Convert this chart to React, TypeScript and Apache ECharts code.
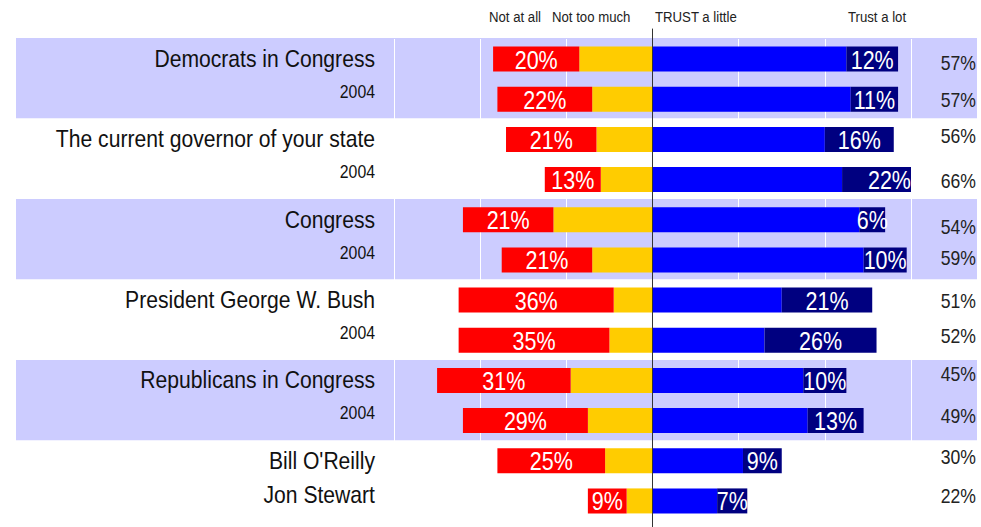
import React, { useEffect, useRef } from 'react';
import * as echarts from 'echarts';

const categories = [
  'Democrats in Congress',
  '2004',
  'The current governor of your state',
  '2004',
  'Congress',
  '2004',
  'President George W. Bush',
  '2004',
  'Republicans in Congress',
  '2004',
  "Bill O'Reilly",
  'Jon Stewart',
];
const labelKinds = ['a', 'b', 'a', 'b', 'a', 'b', 'a', 'b', 'a', 'b', 'a', 'c'];
const bandGroups = ['Democrats', 'Governor', 'Congress', 'Bush', 'Republicans', 'Media'];

const notAtAll = [20, 22, 21, 13, 21, 21, 36, 35, 31, 29, 25, 9];
const notTooMuch = [17, 14, 13, 12, 23, 14, 9, 10, 19, 15, 11, 6];
const trustLittle = [45, 46, 40, 44, 48, 49, 30, 26, 35, 36, 21, 15];
const trustLot = [12, 11, 16, 22, 6, 10, 21, 26, 10, 13, 9, 7];
const totals = [57, 57, 56, 66, 54, 59, 51, 52, 45, 49, 30, 22];

const headers = ['Not at all', 'Not too much', 'TRUST a little', 'Trust a lot'];
const headerX = [489, 552, 655, 848];
const totalNudge = [4, 1, -3, 2, 7, -2, 1, -4, -6, -4, -4, -5];

const FONT = "'Liberation Sans', Arial, sans-serif";
const NARROW_SCALE = 0.88;

export default function App() {
  const ref = useRef<HTMLDivElement>(null);
  useEffect(() => {
    document.body.style.margin = '0';
    const chart = echarts.init(ref.current!, null, { renderer: 'svg' });
    const axisMax = 60;
    const rows = categories.map((_c, i) => [0, i]);

    const labelStyle: Record<string, { size: number; dy: number }> = {
      a: { size: 24, dy: 0 },
      b: { size: 18, dy: -7 },
      c: { size: 24, dy: -6 },
    };

    const option: any = {
      animation: false,
      backgroundColor: '#ffffff',
      grid: [
        { left: 16, right: 4, top: 38, bottom: 6 },
        { left: 394, right: 70, top: 39, bottom: 6 },
        { left: 394, right: 70, top: 29, bottom: 0 },
      ],
      xAxis: [
        { gridIndex: 0, type: 'value', min: 0, max: 1, show: false },
        {
          gridIndex: 1,
          type: 'value',
          min: -axisMax,
          max: axisMax,
          interval: 20,
          axisLine: { show: false },
          axisTick: { show: false },
          axisLabel: { show: false },
          splitLine: { show: true, lineStyle: { color: '#ffffff', width: 1 } },
          z: 1,
        },
        { gridIndex: 2, type: 'value', min: -axisMax, max: axisMax, show: false },
      ],
      yAxis: [
        {
          gridIndex: 0,
          type: 'category',
          data: bandGroups,
          inverse: true,
          axisLine: { show: false },
          axisTick: { show: false },
          axisLabel: { show: false },
          splitLine: { show: false },
          splitArea: { show: true, areaStyle: { color: ['#CCCCFF', '#FFFFFF'] } },
          z: 0,
        },
        {
          gridIndex: 1,
          type: 'category',
          data: categories,
          inverse: true,
          axisLine: { show: false },
          axisTick: { show: false },
          splitLine: { show: false },
          axisLabel: { show: false },
        },
        {
          gridIndex: 2,
          type: 'value',
          min: 0,
          max: 1,
          axisLine: { show: true, onZero: true, lineStyle: { color: '#333333', width: 1 } },
          axisTick: { show: false },
          axisLabel: { show: false },
          splitLine: { show: false },
          z: 10,
        },
      ],
      graphic: headers.map((t, i) => ({
        type: 'text',
        x: headerX[i],
        y: 17,
        scaleX: NARROW_SCALE,
        style: {
          text: t,
          fontSize: 15,
          fontFamily: FONT,
          fill: '#222222',
          align: 'left',
          verticalAlign: 'middle',
        },
      })),
      series: [
        {
          name: 'TRUST a little',
          type: 'bar',
          stack: 'all',
          xAxisIndex: 1,
          yAxisIndex: 1,
          barWidth: 25,
          z: 4,
          data: trustLittle,
          itemStyle: { color: '#0000FF' },
        },
        {
          name: 'Trust a lot',
          type: 'bar',
          stack: 'all',
          xAxisIndex: 1,
          yAxisIndex: 1,
          barWidth: 25,
          z: 4,
          data: trustLot,
          itemStyle: { color: '#000080' },
        },
        {
          name: 'Not too much',
          type: 'bar',
          stack: 'all',
          xAxisIndex: 1,
          yAxisIndex: 1,
          barWidth: 25,
          z: 4,
          data: notTooMuch.map((v) => -v),
          itemStyle: { color: '#FFCC00' },
        },
        {
          name: 'Not at all',
          type: 'bar',
          stack: 'all',
          xAxisIndex: 1,
          yAxisIndex: 1,
          barWidth: 25,
          z: 4,
          data: notAtAll.map((v) => -v),
          itemStyle: { color: '#FF0000' },
        },
        {
          name: 'Segment labels',
          type: 'custom',
          xAxisIndex: 1,
          yAxisIndex: 1,
          z: 6,
          clip: false,
          data: rows,
          encode: { x: 0, y: 1 },
          renderItem: (_params: any, api: any) => {
            const i = api.value(1);
            const red = api.coord([-(notTooMuch[i] + notAtAll[i] / 2), i]);
            const navy = api.coord([trustLittle[i] + trustLot[i] / 2, i]);
            const mk = (p: number[], v: number) => ({
              type: 'text',
              x: p[0],
              y: p[1] + 1,
              scaleX: 0.86,
              style: {
                text: `${v}%`,
                fontSize: 25,
                fontFamily: FONT,
                fill: '#ffffff',
                align: 'center',
                verticalAlign: 'middle',
              },
            });
            return { type: 'group', children: [mk(red, notAtAll[i]), mk(navy, trustLot[i])] };
          },
        },
        {
          name: 'Row labels',
          type: 'custom',
          xAxisIndex: 1,
          yAxisIndex: 1,
          z: 6,
          clip: false,
          data: rows,
          encode: { x: 0, y: 1 },
          renderItem: (_params: any, api: any) => {
            const i = api.value(1);
            const p = api.coord([-axisMax, i]);
            const st = labelStyle[labelKinds[i]];
            return {
              type: 'text',
              x: p[0] - 19,
              y: p[1] + st.dy,
              scaleX: NARROW_SCALE,
              style: {
                text: categories[i],
                fontSize: st.size,
                fontFamily: FONT,
                fill: '#111111',
                align: 'right',
                verticalAlign: 'middle',
              },
            };
          },
        },
        {
          name: 'Total trust',
          type: 'custom',
          xAxisIndex: 1,
          yAxisIndex: 1,
          z: 6,
          clip: false,
          data: rows,
          encode: { x: 0, y: 1 },
          renderItem: (_params: any, api: any) => {
            const i = api.value(1);
            const p = api.coord([axisMax, i]);
            return {
              type: 'text',
              x: p[0] + 65,
              y: p[1] + totalNudge[i],
              scaleX: NARROW_SCALE,
              style: {
                text: `${totals[i]}%`,
                fontSize: 20,
                fontFamily: FONT,
                fill: '#222222',
                align: 'right',
                verticalAlign: 'middle',
              },
            };
          },
        },
      ],
    };
    chart.setOption(option);
    return () => chart.dispose();
  }, []);
  return <div ref={ref} style={{ width: 981, height: 527 }} />;
}
